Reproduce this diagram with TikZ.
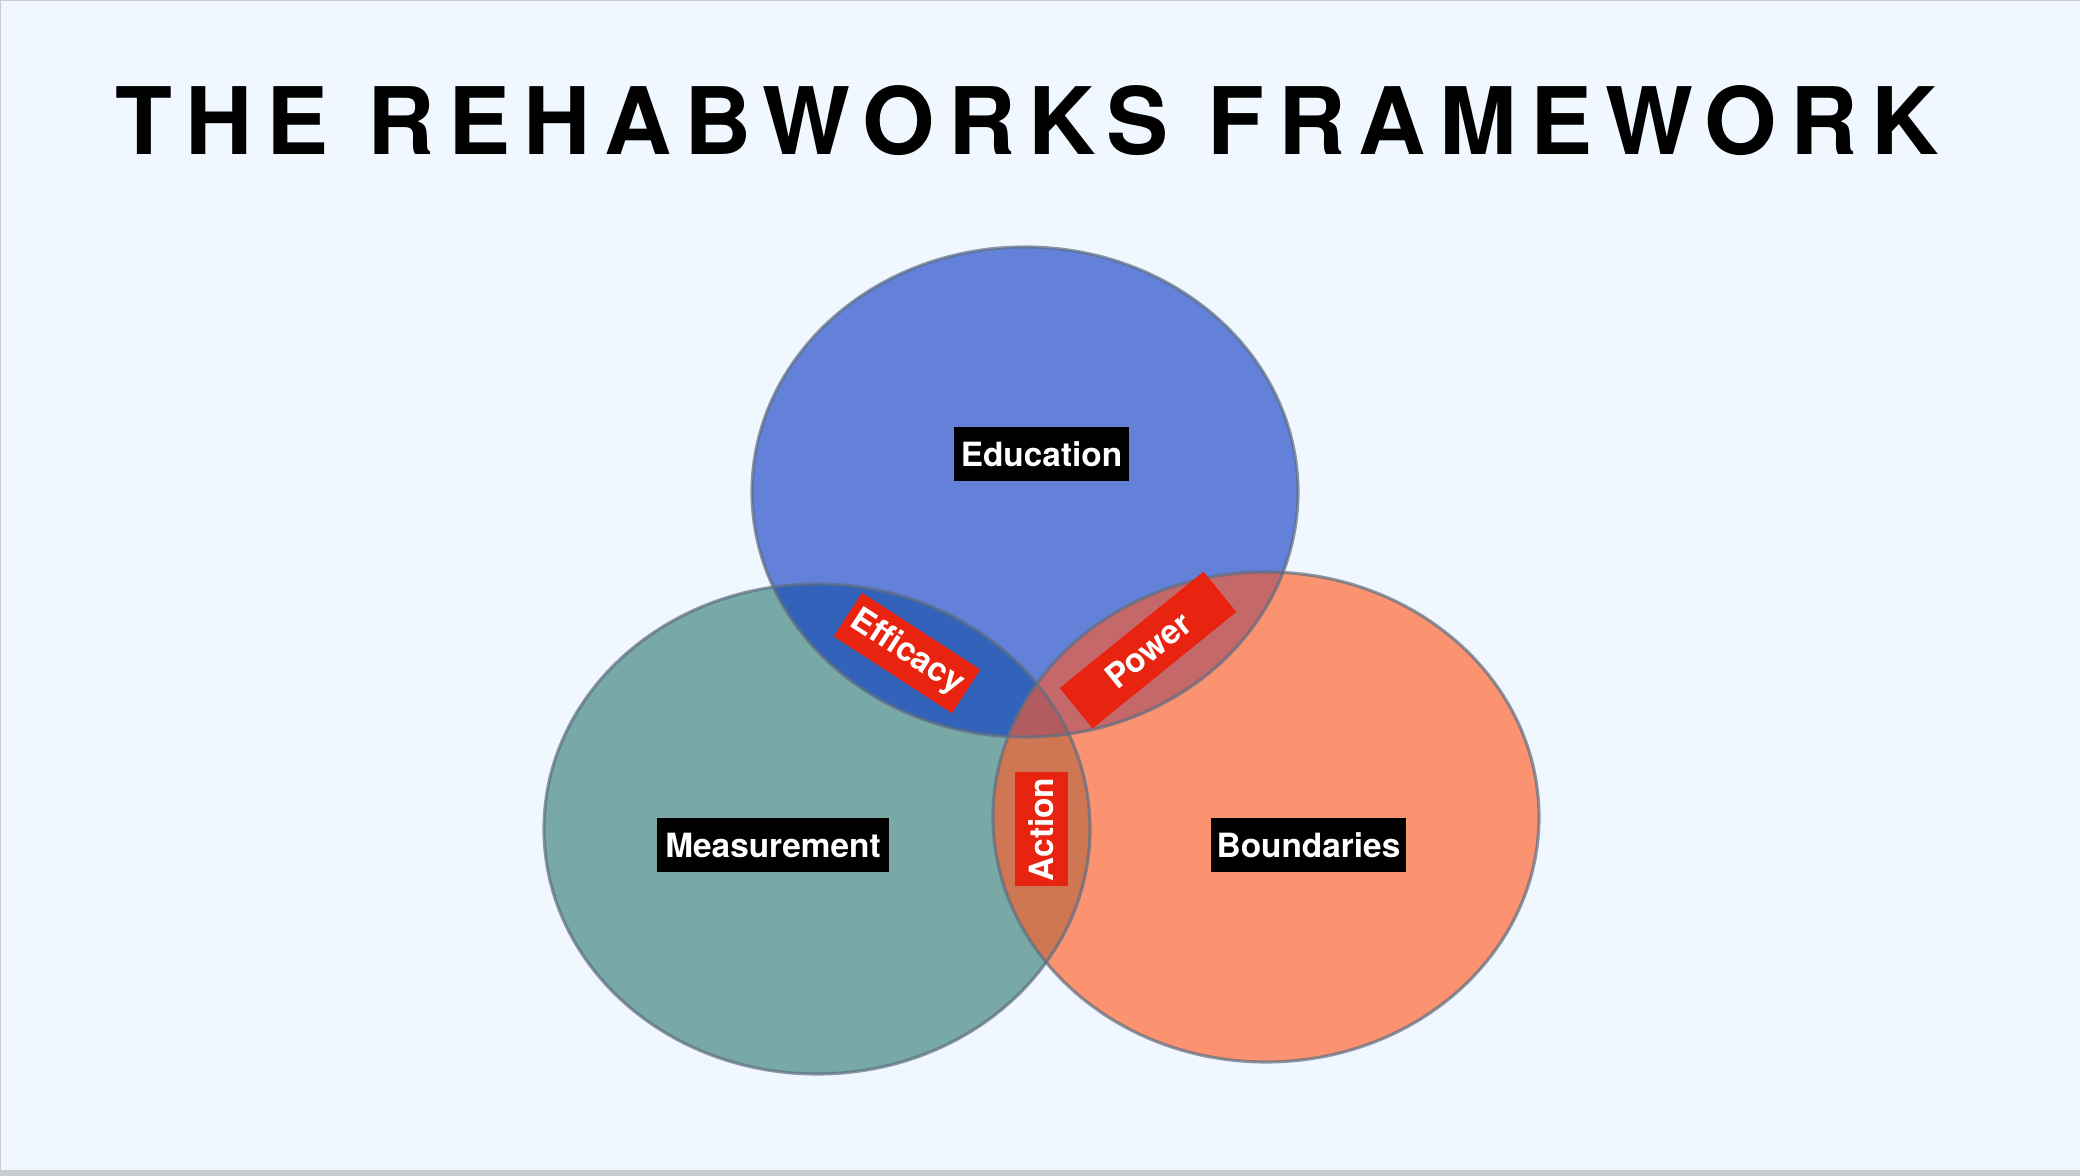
\documentclass[tikz,border=0pt]{standalone}
\usepackage{fontspec}
\setmainfont{TeX Gyre Heros}
\newfontfamily\titlefont[LetterSpace=14.3]{TeX Gyre Heros}
\usetikzlibrary{calc}
\definecolor{slide}{HTML}{F0F7FE}
\definecolor{frame}{HTML}{C9CBCE}
\definecolor{edublue}{HTML}{6381D9}
\definecolor{measgreen}{HTML}{78A9A6}
\definecolor{boundorange}{HTML}{FB9371}
\definecolor{bluegreen}{HTML}{3362BA}
\definecolor{blueorange}{HTML}{C5686A}
\definecolor{greenorange}{HTML}{CF7652}
\definecolor{allthree}{HTML}{B35C5F}
\definecolor{rimgray}{HTML}{5E6E82}
\definecolor{chipred}{HTML}{E8230F}
\tikzset{
    tag/.style={
        fill=black, text=white, inner sep=0pt, minimum height=0.54cm,
        font=\bfseries\fontsize{9.5}{11}\selectfont
    },
    chip/.style={
        fill=chipred, text=white, inner sep=0pt, minimum height=0.52cm,
        font=\bfseries\fontsize{9.5}{11}\selectfont
    },
    rim/.style={
        draw=rimgray, line width=0.9pt, draw opacity=0.7
    }
}

\begin{document}
\begin{tikzpicture}[line cap=round,line join=round]

% --- geometry ---
    \def\RX{2.73}                        % ellipse x radius
    \def\RY{2.45}                        % ellipse y radius
    \coordinate (E) at (10.25,-4.92);    % education centre
    \coordinate (M) at ( 8.17,-8.29);    % measurement centre
    \coordinate (B) at (12.66,-8.17);    % boundaries centre

% slide
    \fill[frame] (0,0) rectangle (20.80,-11.76);
    \fill[slide] (0.01,-0.01) rectangle (20.80,-11.70);
    \useasboundingbox (0,0) rectangle (20.80,-11.76);

% title
    \node[anchor=base, font=\titlefont\bfseries\fontsize{26.5}{28}\selectfont]
        (title) at (10.27,-1.55) {THE REHABWORKS FRAMEWORK};

% ellipses
    \fill[measgreen]   (M) ellipse [x radius=\RX, y radius=\RY];
    \fill[edublue]     (E) ellipse [x radius=\RX, y radius=\RY];
    \fill[boundorange] (B) ellipse [x radius=\RX, y radius=\RY];

% overlaps
    \begin{scope}
        \clip (E) ellipse [x radius=\RX, y radius=\RY];
        \fill[bluegreen]  (M) ellipse [x radius=\RX, y radius=\RY];
        \fill[blueorange] (B) ellipse [x radius=\RX, y radius=\RY];
    \end{scope}
    \begin{scope}
        \clip (M) ellipse [x radius=\RX, y radius=\RY];
        \fill[greenorange] (B) ellipse [x radius=\RX, y radius=\RY];
        \clip (B) ellipse [x radius=\RX, y radius=\RY];
        \fill[allthree] (E) ellipse [x radius=\RX, y radius=\RY];
    \end{scope}

% outlines
    \draw[rim] (M) ellipse [x radius=\RX, y radius=\RY];
    \draw[rim] (E) ellipse [x radius=\RX, y radius=\RY];
    \draw[rim] (B) ellipse [x radius=\RX, y radius=\RY];

% circle labels
    \node[tag, minimum width=1.75cm] (edu)   at (10.415,-4.545) {Education};
    \node[tag, minimum width=2.32cm] (meas)  at ( 7.73,-8.45)   {Measurement};
    \node[tag, minimum width=1.95cm] (bound) at (13.085,-8.45)  {Boundaries};

% overlap labels
    \node[chip, minimum width=1.41cm, rotate=-33] (eff) at ( 9.07,-6.53)  {Efficacy};
    \node[chip, minimum width=1.85cm, rotate=39]  (pow) at (11.48,-6.50)  {Power};
    \node[chip, minimum width=1.14cm, minimum height=0.53cm, rotate=90]
        (act) at (10.415,-8.295) {Action};

\end{tikzpicture}
\end{document}
